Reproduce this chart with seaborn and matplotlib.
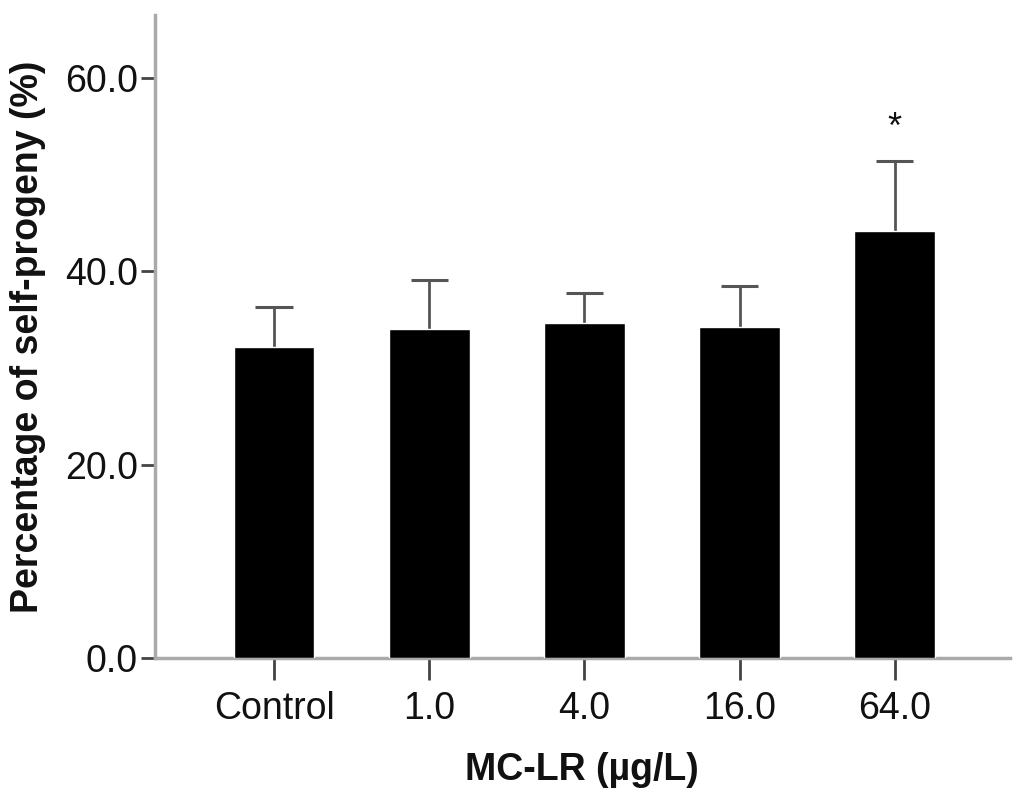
import matplotlib
matplotlib.use("Agg")
import matplotlib.pyplot as plt
import seaborn as sns
import numpy as np
import pandas as pd

# ==========================================
# DATOS
# ==========================================

groups = ["Control", "1.0", "4.0", "16.0", "64.0"]
means = [32.2, 34.0, 34.7, 34.2, 44.2]
sd_upper = [4.1, 5.1, 3.1, 4.3, 7.2]
marks = ["", "", "", "", "*"]

df = pd.DataFrame({"group": groups, "mean": means})

# ==========================================
# GRAFICO
# ==========================================

sns.set_style("white")
plt.rcParams["font.family"] = ["Liberation Sans", "DejaVu Sans"]

fig = plt.figure(figsize=(10.24, 7.91), dpi=100)
ax = fig.add_axes([0.151, 0.168, 0.835, 0.813])

sns.barplot(
    data=df,
    x="group",
    y="mean",
    color="black",
    width=0.52,
    errorbar=None,
    saturation=1,
    ax=ax,
    zorder=3
)

# barras de error solo hacia arriba
xpos = np.arange(len(groups))
tops = np.array(means) + np.array(sd_upper)
ax.vlines(xpos, means, tops, color="#555555", linewidth=2, zorder=2)
ax.hlines(tops, xpos - 0.12, xpos + 0.12, color="#555555",
          linewidth=2.2, zorder=2)

for x, top, t in zip(xpos, tops, marks):
    if t:
        ax.text(x, top + 3.4, t, ha="center", va="center",
                fontsize=26, color="#111111")

ax.set_xlim(-0.77, 4.74)
ax.set_ylim(0, 66.5)
ax.set_yticks([0, 20, 40, 60])
ax.set_yticklabels([f"{v:.1f}" for v in [0, 20, 40, 60]])

for side in ["top", "right"]:
    ax.spines[side].set_visible(False)
for side in ["left", "bottom"]:
    ax.spines[side].set_color("#aaaaaa")
    ax.spines[side].set_linewidth(2.5)

ax.tick_params(axis="y", direction="out", length=10, width=2,
               color="#444444", labelsize=27, labelcolor="#111111",
               pad=2, left=True)
ax.tick_params(axis="x", direction="out", length=16, width=2,
               color="#444444", labelsize=27, labelcolor="#111111",
               pad=8, bottom=True)

ax.set_xlabel("MC-LR (µg/L)", fontsize=27, fontweight="bold",
              color="#111111", labelpad=18)
ax.set_ylabel("Percentage of self-progeny (%)", fontsize=27,
              fontweight="bold", color="#111111", labelpad=14)

fig.savefig("out.png", dpi=100)
